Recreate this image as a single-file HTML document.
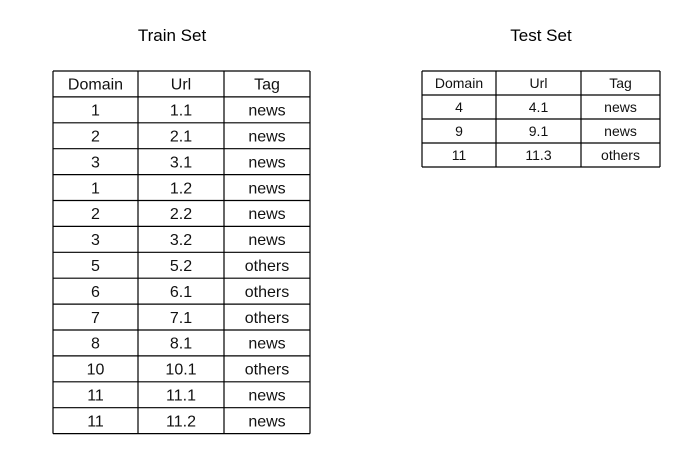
<!DOCTYPE html>
<html><head><meta charset="utf-8"><style>
html,body{margin:0;padding:0;background:#fff;}
svg{display:block;font-family:"Liberation Sans",sans-serif;}
</style></head><body>
<svg id="s" width="677" height="453">
<text x="172" y="41" font-size="17" text-anchor="middle">Train Set</text>
<text x="541" y="41" font-size="17" text-anchor="middle">Test Set</text>
<g id="train"></g>
<g id="test"></g>
</svg>
<script>
const header = ["Domain","Url","Tag"];
const trainRows = [["1","1.1","news"],["2","2.1","news"],["3","3.1","news"],["1","1.2","news"],["2","2.2","news"],["3","3.2","news"],["5","5.2","others"],["6","6.1","others"],["7","7.1","others"],["8","8.1","news"],["10","10.1","others"],["11","11.1","news"],["11","11.2","news"]];
const testRows = [["4","4.1","news"],["9","9.1","news"],["11","11.3","others"]];
const NS="http://www.w3.org/2000/svg";
function mk(g,tag,attrs){const e=document.createElementNS(NS,tag);for(const k in attrs)e.setAttribute(k,attrs[k]);g.appendChild(e);return e;}
function table(g,cols,top,rh,rows,fs){
  const all=[header].concat(rows);
  const bottom=top+rh*all.length;
  for(let i=0;i<=all.length;i++){const y=top+rh*i;const l=mk(g,"line",{x1:cols[0],x2:cols[3],y1:y,y2:y,stroke:"#000","stroke-width":1.2});
    
    }
  cols.forEach(x=>{const l=mk(g,"line",{x1:x,x2:x,y1:top,y2:bottom,stroke:"#000","stroke-width":1.2});
    
    });
  all.forEach((r,i)=>{r.forEach((v,j)=>{
    const t=mk(g,"text",{x:(cols[j]+cols[j+1])/2,y:top+rh*i+rh/2+fs*0.36,"font-size":fs,"text-anchor":"middle",fill:"#111"});
    t.textContent=v;
    
    
  });});
}
table(document.getElementById("train"),[53,138,224,310],71,25.9,trainRows,16);
table(document.getElementById("test"),[422,496,581,660],71,24,testRows,14);
</script>
</body></html>
